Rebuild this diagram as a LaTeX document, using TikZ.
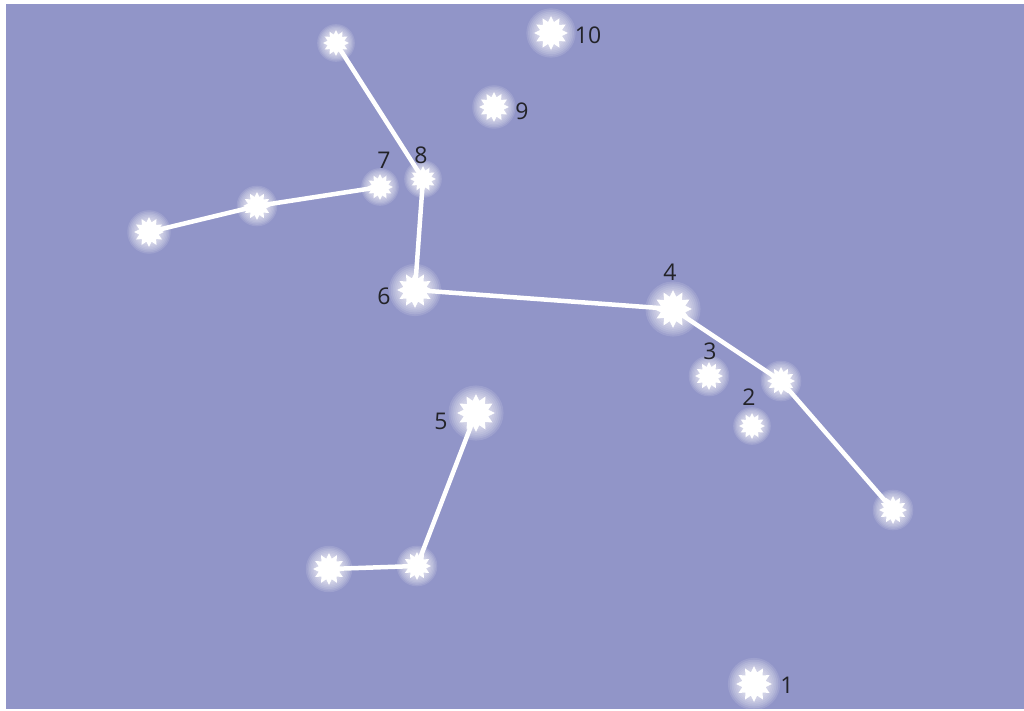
\documentclass[tikz,border=0pt]{standalone}
\usepackage{fontspec}
\setmainfont{Open Sans}
\usetikzlibrary{shapes.geometric}
\definecolor{sky}{RGB}{145,149,200}
\definecolor{labelc}{RGB}{35,35,40}
\pgfdeclarelayer{back}
\pgfdeclarelayer{lines}
\pgfsetlayers{back,lines,main}
\tikzset{
  starnode/.style={star, star points=12, star point ratio=1.5, fill=white, draw=none, inner sep=0pt, minimum size=#1},
  link/.style={draw=white, line width=4.5pt, line cap=round},
  lab/.style={text=labelc, font=\fontsize{23}{23}\selectfont, inner sep=0pt}
}
\newcommand\MyStar[4]{%
  \foreach \k in {1.45,1.35,1.25,1.15,1.05,0.95,0.85}{%
    \fill[white,opacity=0.12] (#2,#3) circle ({\k*#4/2});
  }
  \node[starnode=#4pt] (#1) at (#2,#3) {};
}
\begin{document}
\begin{tikzpicture}[x=1pt,y=-1pt]
\useasboundingbox (0,0) rectangle (1024,711);
\begin{pgfonlayer}{back}
\fill[sky] (6,4) rectangle (1024,709);
\end{pgfonlayer}
\MyStar{sa}{336}{43}{26}
\MyStar{s10}{551}{33}{34}
\MyStar{s9}{494}{107}{30}
\MyStar{s8}{423}{179}{26}
\MyStar{s7}{380}{187}{26}
\MyStar{sb}{257}{206}{28}
\MyStar{sc}{149}{232}{30}
\MyStar{s6}{415}{290}{36}
\MyStar{s4}{673}{309}{38}
\MyStar{s3}{709}{376}{28}
\MyStar{sd}{781}{381}{28}
\MyStar{s2}{752}{426}{26}
\MyStar{se}{893}{510}{28}
\MyStar{s5}{476}{413}{38}
\MyStar{sf}{417}{566}{28}
\MyStar{sg}{329}{569}{32}
\MyStar{s1}{754}{684}{36}
\node[lab] (l10) at (588,35) {10};
\node[lab] (l9) at (522,111) {9};
\node[lab] (l8) at (421,155) {8};
\node[lab] (l7) at (384,160) {7};
\node[lab] (l6) at (384,296) {6};
\node[lab] (l4) at (670,272) {4};
\node[lab] (l3) at (710,351) {3};
\node[lab] (l2) at (749,397) {2};
\node[lab] (l5) at (441,421) {5};
\node[lab] (l1) at (787,685) {1};
\begin{pgfonlayer}{lines}
\draw[link] (sa.center) -- (s8.center) -- (s6.center) -- (s4.center) -- (sd.center) -- (se.center);
\draw[link] (s7.center) -- (sb.center) -- (sc.center);
\draw[link] (s5.center) -- (sf.center) -- (sg.center);
\end{pgfonlayer}
\end{tikzpicture}
\end{document}
